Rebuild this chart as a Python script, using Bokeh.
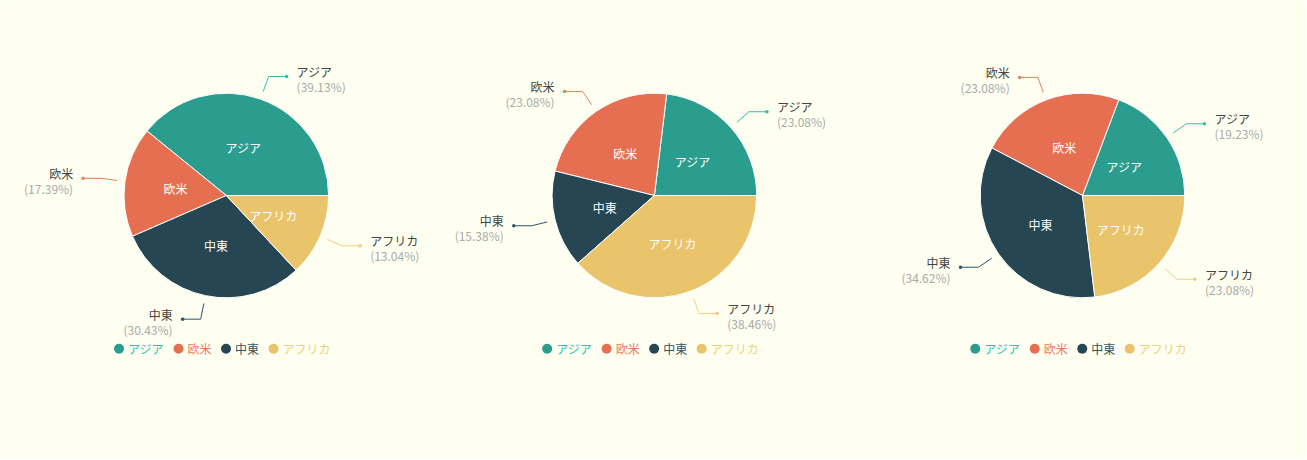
import math
from bokeh.plotting import figure
from bokeh.models import Range1d, ColumnDataSource
from bokeh.core.properties import value
from bokeh.embed import file_html
from bokeh.resources import INLINE

# ---------------- data ----------------
categories = ["アジア", "欧米", "中東", "アフリカ"]
chart1_values = [39.13, 17.39, 30.43, 13.04]
chart2_values = [23.08, 23.08, 15.38, 38.46]
chart3_values = [19.23, 23.08, 34.62, 23.08]
all_charts = [chart1_values, chart2_values, chart3_values]

# ---------------- styles ----------------
slice_colors = ["#2A9D8F", "#E76F51", "#264653", "#E9C46A"]
accent_colors = ["#33BDB0", "#EE7A5E", "#2E5566", "#EDD27A"]
BG = "#FEFFF0"
FONT = "Noto Sans CJK JP"
NAME_COLOR = "#444444"
PCT_COLOR = "#AAAAAA"

W, H = 1305, 458
FIRST_CX = 225.8   # screen px
CHART_STEP = 428.1
CY = 195.0
R = 102.3


def dx(x):
    return x


def dy(y):
    return H - y


p = figure(width=W, height=H, output_backend="svg", toolbar_location=None,
           x_range=Range1d(0, W), y_range=Range1d(0, H), min_border=0)
p.axis.visible = False
p.grid.visible = False
p.outline_line_color = None
p.background_fill_color = BG
p.border_fill_color = BG

for ci, vals in enumerate(all_charts):
    cx = dx(FIRST_CX + ci * CHART_STEP)
    cy = dy(CY)
    total = sum(vals)
    starts, ends, mids = [], [], []
    acc = 0.0
    for v in vals:
        a0 = acc / total * 2 * math.pi
        acc += v
        a1 = acc / total * 2 * math.pi
        starts.append(a0)
        ends.append(a1)
        mids.append((a0 + a1) / 2)

    src = ColumnDataSource(dict(x=[cx] * len(vals), y=[cy] * len(vals),
                                start=starts, end=ends, color=slice_colors))
    p.wedge(x="x", y="y", radius=R, start_angle="start", end_angle="end",
            direction="anticlock", fill_color="color", line_color="#FFFFFF",
            line_width=1, source=src)

    # inner labels
    ix = [cx + R / 2 * math.cos(m) for m in mids]
    iy = [cy + R / 2 * math.sin(m) for m in mids]
    p.text(x=ix, y=iy, text=categories, text_color="#FFFFFF",
           text_font=value(FONT), text_font_size="12px",
           text_align="center", text_baseline="middle")

    # leader lines + outer labels
    for k, m in enumerate(mids):
        c, s = math.cos(m), math.sin(m)
        x1, y1 = cx + (R + 8) * c, cy + (R + 8) * s
        x2, y2 = cx + (R + 24) * c, cy + (R + 24) * s
        side = 1 if c >= 0 else -1
        x3 = x2 + side * 18
        p.line([x1, x2, x3], [y1, y2, y2], line_color=accent_colors[k], line_width=1)
        p.scatter([x3], [y2], size=3.5, marker="circle",
                  fill_color=accent_colors[k], line_color=None)
        tx = x3 + side * 10
        align = "left" if side > 0 else "right"
        p.text(x=[tx], y=[y2 + 5], text=[categories[k]], text_color=NAME_COLOR,
               text_font=value(FONT), text_font_size="12px",
               text_align=align, text_baseline="middle")
        pct = 100.0 * vals[k] / total
        p.text(x=[tx], y=[y2 - 10], text=["(%.2f%%)" % pct], text_color=PCT_COLOR,
               text_font=value(FONT), text_font_size="12px",
               text_align=align, text_baseline="middle")

    # legend
    widths = [12 * len(n) for n in categories]
    total_w = sum(10 + 4 + w for w in widths) + 9.5 * (len(categories) - 1)
    lx = cx - 4 - total_w / 2
    ly = dy(348.3)
    for k, n in enumerate(categories):
        p.scatter([lx + 5], [ly], size=10, marker="circle",
                  fill_color=slice_colors[k], line_color=None)
        p.text(x=[lx + 14], y=[ly], text=[n], text_color=accent_colors[k],
               text_font=value(FONT), text_font_size="12px",
               text_align="left", text_baseline="middle")
        lx += 14 + widths[k] + 9.5

html = file_html(p, INLINE, title="pie charts")
html = html.replace("<body>", '<body style="background-color:%s;">' % BG, 1)
open("out.html", "w").write(html)
